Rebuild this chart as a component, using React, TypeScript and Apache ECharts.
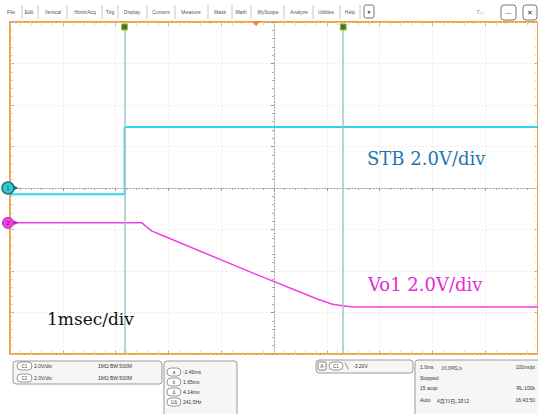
import React, { useEffect, useRef } from "react";
import * as echarts from "echarts";

// Screen positions: time in ms from screen centre (1 ms/div), level in divisions from centre
const stbTime = [-5, -2.83, -2.83, 5];
const stbLevel = [-0.15, -0.15, 1.47, 1.47];
const vo1Time = [-5, -2.5, -2.43, -2.31, -2.18, -0.36, 0.83, 1.11, 1.3, 1.49, 5];
const vo1Level = [-0.84, -0.84, -0.92, -1.04, -1.11, -2.07, -2.68, -2.8, -2.84, -2.87, -2.87];
const triggerOffset = -0.34; // trigger position relative to centre (ms)
const cursorReadouts = [-2.49, 1.65]; // ms relative to trigger
const stbGround = 0;
const vo1Ground = -0.84;

const menuItems = ["File", "Edit", "Vertical", "Horiz/Acq", "Trig", "Display", "Cursors", "Measure", "Mask", "Math", "MyScope", "Analyze", "Utilities", "Help"];
const channelRows = [
  ["C1", "2.0V/div", "1MΩ", "BW:500M"],
  ["C2", "2.0V/div", "1MΩ", "BW:500M"],
];
const cursorRows = [
  ["a", "-2.49ms"],
  ["b", "1.65ms"],
  ["Δ", "4.14ms"],
  ["1/Δ", "241.5Hz"],
];
const triggerText = ["A", "C1", "╲", "-3.20V"];
const acqRows = [
  ["1.0ms", "10.0MS/s", "100ns/pt"],
  ["Stopped", "", ""],
  ["15 acqs", "", "RL:100k"],
  ["Auto", "4月31日, 2012", "16:43:50"],
];

const menuCenters = [11, 29, 53, 85, 110, 132, 161, 191, 220, 241, 268, 299, 326, 350];
const menuSeps = [22, 38, 67, 102, 118, 147, 175, 208, 232, 251, 284, 313, 340, 360];

const SANS = "Liberation Sans";

function txt(text: string, x: number, y: number, size: number, fill: string, align = "left", family = SANS, z = 10): any {
  return {
    type: "text",
    z,
    style: { text, x, y, fontSize: size, fill, fontFamily: family, textAlign: align, textVerticalAlign: "middle", align, verticalAlign: "middle" },
  };
}
function box(x: number, y: number, w: number, h: number, r = 3, fill = "#f6f6f6", stroke = "#9a9a9a", lw = 1): any {
  return { type: "rect", z: 9, shape: { x, y, width: w, height: h, r }, style: { fill, stroke, lineWidth: lw } };
}
function pill(x: number, y: number, w: number, label: string): any[] {
  return [box(x, y - 4, w, 8, 4, "#ffffff", "#808080", 0.8), txt(label, x + w / 2, y, 4.5, "#444", "center")];
}

export default function App() {
  const ref = useRef<HTMLDivElement>(null);
  useEffect(() => {
    document.body.style.margin = "0";
    const chart = echarts.init(ref.current!, undefined, { renderer: "svg" });

    const graphics: any[] = [];
    // menu bar
    menuItems.forEach((m, i) => graphics.push(txt(m, menuCenters[i], 12, 5, "#555", "center")));
    menuSeps.forEach((x) =>
      graphics.push({ type: "line", z: 9, shape: { x1: x, y1: 5, x2: x, y2: 19 }, style: { stroke: "#c8c8c8", lineWidth: 1 } })
    );
    graphics.push(box(364, 5, 10, 13, 2, "#fff", "#777", 1), txt("▼", 369, 12, 5, "#333", "center"));
    graphics.push(txt("T⌂", 480, 12, 6, "#999", "center"));
    graphics.push(box(501, 5, 15, 15, 3, "#fff", "#777", 1), txt("—", 508.5, 13, 6, "#333", "center"));
    graphics.push(box(523, 5, 14, 15, 3, "#fff", "#777", 1), txt("✕", 530, 12.5, 7, "#333", "center"));

    // main annotations
    graphics.push(txt("STB 2.0V/div", 367, 158, 18, "#2576ad", "left", "DejaVu Serif"));
    graphics.push(txt("Vo1 2.0V/div", 368, 284, 18, "#e22ad9", "left", "DejaVu Serif"));
    graphics.push(txt("1msec/div", 47, 319, 17, "#111", "left", "DejaVu Serif"));

    // bottom panels
    graphics.push(box(13, 361, 149, 23));
    channelRows.forEach((r, i) => {
      const y = 366 + i * 12;
      graphics.push(...pill(17, y, 15, r[0]));
      graphics.push(txt(r[1], 34, y, 5, "#333"));
      graphics.push(txt(r[2], 98, y, 5, "#333"));
      graphics.push(txt(r[3], 110, y, 5, "#333"));
    });
    graphics.push(box(164, 361, 73, 56));
    cursorRows.forEach((r, i) => {
      const y = 372 + i * 10;
      graphics.push(...pill(167, y, 14, r[0]));
      graphics.push(txt(r[1], 183, y, 5, "#333"));
    });
    graphics.push(box(316, 360, 97, 13));
    graphics.push(box(318, 362, 8, 8, 1, "#fff", "#666", 0.8), txt(triggerText[0], 322, 366, 5, "#333", "center"));
    graphics.push(...pill(329, 366, 14, triggerText[1]));
    graphics.push(txt(triggerText[2], 347, 366, 6, "#333", "center"));
    graphics.push(txt(triggerText[3], 353, 366, 5, "#333"));
    graphics.push(box(415, 360, 128, 58));
    const acqY = [367, 378, 388, 400];
    acqRows.forEach((r, i) => {
      graphics.push(txt(r[0], 420, acqY[i], 5, "#333"));
      if (r[1]) graphics.push(txt(r[1], i === 3 ? 437 : 441, acqY[i], 5, "#333", "left", "Noto Sans CJK SC"));
      if (r[2]) graphics.push(txt(r[2], 535, acqY[i], 5, "#333", "right"));
    });

    const cursorX = cursorReadouts.map((c) => c + triggerOffset);

    const edgeAxis = (pos: string) => ({
      type: "value",
      gridIndex: 1,
      position: pos,
      min: pos === "top" || pos === "bottom" ? -5 : -4,
      max: pos === "top" || pos === "bottom" ? 5 : 4,
      interval: 1,
      axisLine: { show: false, onZero: false },
      axisTick: { show: true, inside: true, length: 4, lineStyle: { color: "#bdbdbd" } },
      minorTick: { show: true, splitNumber: 5, length: 3, lineStyle: { color: "#cfcfcf" } },
      axisLabel: { show: false },
      splitLine: { show: false },
    });

    const centreAxis = (min: number, max: number) => ({
      type: "value",
      gridIndex: 0,
      min,
      max,
      interval: 1,
      axisLine: { show: true, onZero: true, lineStyle: { color: "#9a9a9a", type: [1, 2], width: 1 } },
      axisTick: { show: true, length: 3, lineStyle: { color: "#999" } },
      minorTick: { show: true, splitNumber: 5, length: 2, lineStyle: { color: "#aaa" } },
      axisLabel: { show: false },
      splitLine: { show: true, lineStyle: { color: "#dcdcdc", type: [1, 3], width: 1 } },
    });

    chart.setOption({
      animation: false,
      backgroundColor: "#ffffff",
      grid: [
        { left: 10, top: 22, width: 532, height: 332, show: true, borderColor: "#f2a22e", borderWidth: 2, backgroundColor: "transparent" },
        { left: 10, top: 22, width: 532, height: 332, show: false },
      ],
      xAxis: [centreAxis(-5, 5), edgeAxis("top"), edgeAxis("bottom")],
      yAxis: [centreAxis(-4, 4), edgeAxis("left"), edgeAxis("right")],
      series: [
        {
          type: "line",
          name: "cursors",
          xAxisIndex: 0,
          yAxisIndex: 0,
          data: [],
          silent: true,
          markLine: {
            silent: true,
            symbol: "none",
            label: { show: false },
            lineStyle: { color: "#9fc6ca", width: 1.5, type: "solid" },
            data: cursorX.map((x) => ({ xAxis: x })),
          },
          markPoint: {
            silent: true,
            label: { show: false },
            data: [
              ...cursorX.map((x) => ({ coord: [x, 3.88], symbol: "rect", symbolSize: 6, itemStyle: { color: "#4f6b2a", borderColor: "#9acd32", borderWidth: 1 } })),
              { coord: [triggerOffset, 3.96], symbol: "triangle", symbolRotate: 180, symbolSize: [7, 5], itemStyle: { color: "#f07a30" } },
            ],
          },
        },
        {
          type: "line",
          name: "STB",
          xAxisIndex: 0,
          yAxisIndex: 0,
          data: stbTime.map((t, i) => [t, stbLevel[i]]),
          symbol: "none",
          lineStyle: { color: "#33d3e6", width: 2 },
          markPoint: {
            silent: true,
            data: [
              { coord: [-5, stbGround], symbol: "circle", symbolSize: 12, symbolOffset: [-2, 0], itemStyle: { color: "#35c9d6", borderColor: "#17727e", borderWidth: 1.5 }, label: { show: true, formatter: "1", fontSize: 6, color: "#0d4c55" } },
              { coord: [-5, stbGround], symbol: "triangle", symbolRotate: -90, symbolSize: [5, 5], symbolOffset: [6, 0], itemStyle: { color: "#17727e" }, label: { show: false } },
            ],
          },
        },
        {
          type: "line",
          name: "Vo1",
          xAxisIndex: 0,
          yAxisIndex: 0,
          data: vo1Time.map((t, i) => [t, vo1Level[i]]),
          symbol: "none",
          lineStyle: { color: "#f03ee6", width: 1.5 },
          markPoint: {
            silent: true,
            data: [
              { coord: [-5, vo1Ground], symbol: "circle", symbolSize: 11, symbolOffset: [-2, 0], itemStyle: { color: "#f040e0", borderColor: "#c020b8", borderWidth: 1 }, label: { show: true, formatter: "2", fontSize: 6, color: "#6a0a60" } },
              { coord: [-5, vo1Ground], symbol: "triangle", symbolRotate: -90, symbolSize: [5, 5], symbolOffset: [6, 0], itemStyle: { color: "#c020b8" }, label: { show: false } },
            ],
          },
        },
      ],
      graphic: graphics,
    });
    return () => chart.dispose();
  }, []);
  return <div ref={ref} style={{ width: 538, height: 414 }} />;
}
